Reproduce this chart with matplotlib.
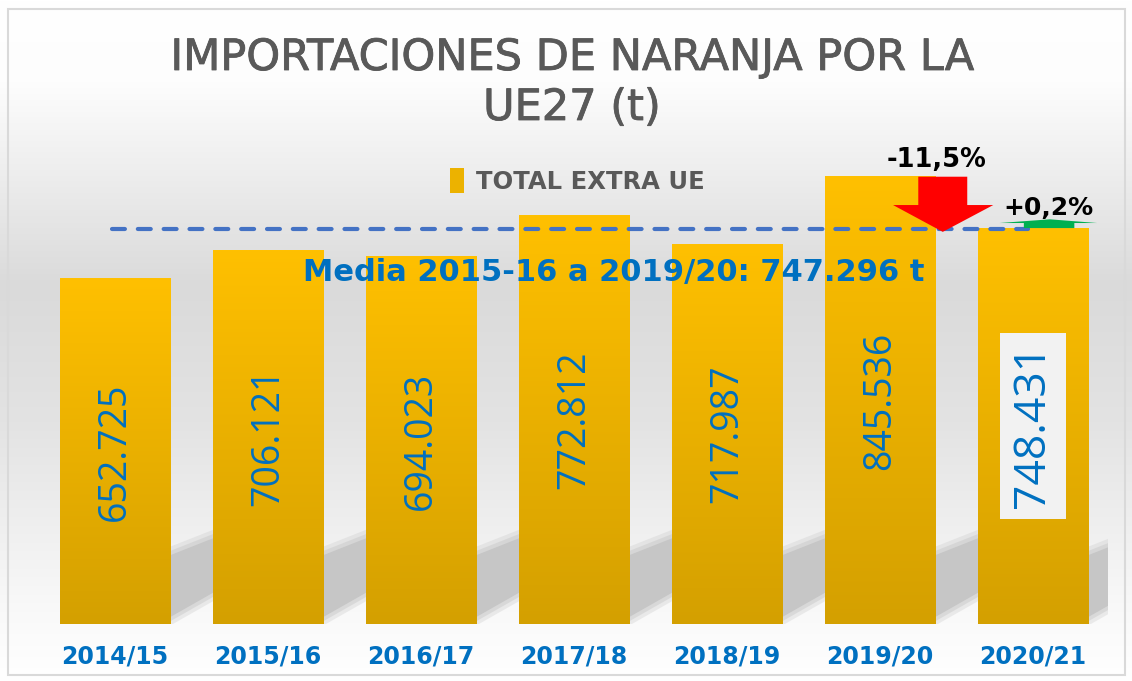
import numpy as np
import matplotlib.pyplot as plt
import matplotlib.patheffects as pe
from matplotlib.colors import LinearSegmentedColormap
from matplotlib.patches import Rectangle, Polygon

campaigns = ["2014/15", "2015/16", "2016/17", "2017/18", "2018/19", "2019/20", "2020/21"]
values = [652725, 706121, 694023, 772812, 717987, 845536, 748431]
value_labels = ["652.725", "706.121", "694.023", "772.812", "717.987", "845.536", "748.431"]
mean_value = 747296
mean_label = "Media 2015-16 a 2019/20: 747.296 t"
change_labels = ["-11,5%", "+0,2%"]

BLUE = "#0070C0"
GREY = "#595959"

fig = plt.figure(figsize=(11.32, 6.81), dpi=100)

# background gradient
bg = fig.add_axes([0, 0, 1, 1], zorder=-10)
bg_cmap = LinearSegmentedColormap.from_list(
    "bg", [(0, "#ffffff"), (0.12, "#fdfdfd"), (0.42, "#dadada"),
           (0.62, "#e3e3e3"), (0.9, "#f9f9f9"), (1, "#ffffff")])
bg.imshow(np.linspace(0, 1, 256).reshape(-1, 1), aspect="auto", cmap=bg_cmap,
          extent=[0, 1, 0, 1])
bg.add_patch(Rectangle((8 / 1132, 6 / 681), 1117 / 1132, 666 / 681, fill=False,
                       edgecolor="#d9d9d9", lw=1.5, transform=bg.transAxes))
bg.set_xlim(0, 1)
bg.set_ylim(0, 1)
bg.axis("off")

ax = fig.add_axes([30 / 1132, 57 / 681, 1078 / 1132, 529 / 681])
ax.patch.set_alpha(0)
x = np.arange(len(campaigns))
w = 0.72
gap = 1 - w

bar_cmap = LinearSegmentedColormap.from_list("bar", ["#D4A000", "#FFC000"])
grad = np.linspace(0, 1, 256).reshape(-1, 1)
for xi, v in zip(x, values):
    r = xi + w / 2
    # soft perspective shadow in the gap right of each bar
    for grow, a in [(16000, 0.3), (8000, 0.45), (0, 1.0)]:
        ax.add_patch(Polygon([(r, 13000 - grow), (r, 130000 + grow),
                              (r + gap, 162000 + grow), (r + gap, 59000 - grow)],
                             closed=True, facecolor="#c6c6c6", edgecolor="none",
                             alpha=a, zorder=1))
    ax.imshow(grad, aspect="auto", cmap=bar_cmap, origin="lower",
              extent=[xi - w / 2, xi + w / 2, 0, v], zorder=2)

ax.set_xlim(-0.556, 6.49)
ax.set_ylim(0, 1000000)

for xi, v, lab in zip(x[:-1], values[:-1], value_labels[:-1]):
    ax.text(xi, v / 2, lab, rotation=90, ha="center", va="center",
            fontsize=27, color=BLUE, family="Open Sans", zorder=5)
ax.text(x[-1], values[-1] / 2, value_labels[-1], rotation=90, ha="center",
        va="center", fontsize=32, color=BLUE, family="Open Sans", zorder=5,
        bbox=dict(boxstyle="square,pad=0.25", facecolor="#f2f2f2", edgecolor="none"))

# mean line
ax.plot([-0.02, 5.97], [mean_value, mean_value], color="#4472C4", lw=3,
        ls=(0, (3.1, 3.1)), dash_capstyle="round", zorder=6)
ax.text(3.26, 665000, mean_label, ha="center", va="center", fontsize=22,
        color=BLUE, family="DejaVu Sans", fontweight="bold", zorder=7)

# red arrow (2019/20 -> 2020/21)
xr = x[5]
top = values[5]
ax.add_patch(Polygon([(xr + 0.25, top), (xr + 0.57, top), (xr + 0.57, 792000),
                      (xr + 0.74, 792000), (xr + 0.41, mean_value - 6000),
                      (xr + 0.085, 792000), (xr + 0.25, 792000)],
                     closed=True, facecolor="#FF0000", edgecolor="none", zorder=8))
ax.text(xr + 0.37, 877000, change_labels[0], ha="center", va="center",
        fontsize=18.5, color="black", family="DejaVu Sans", fontweight="bold")

# green arrow
xg = x[6]
ax.add_patch(Polygon([(xg - 0.06, values[6]), (xg + 0.27, values[6]),
                      (xg + 0.27, 758000), (xg + 0.42, 758000),
                      (xg + 0.11, 765000), (xg - 0.22, 758000),
                      (xg - 0.06, 758000)],
                     closed=True, facecolor="#00B050", edgecolor="none", zorder=8))
ax.text(xg + 0.1, 786000, change_labels[1], ha="center", va="center",
        fontsize=18, color="black", family="DejaVu Sans", fontweight="bold")

ax.set_xticks(x)
ax.set_xticklabels(campaigns, fontsize=17, fontweight="bold", color=BLUE,
                   family="DejaVu Sans")
ax.tick_params(axis="x", length=0, pad=15)
ax.set_yticks([])
for s in ax.spines.values():
    s.set_visible(False)

thick = [pe.withStroke(linewidth=0.6, foreground=GREY)]
fig.text(0.505, 1 - 58 / 681, "IMPORTACIONES DE NARANJA POR LA", ha="center",
         va="center", fontsize=31, color=GREY, family="DejaVu Sans",
         path_effects=thick)
fig.text(0.505, 1 - 108 / 681, "UE27 (t)", ha="center", va="center",
         fontsize=31, color=GREY, family="DejaVu Sans", path_effects=thick)

ax.legend([Rectangle((0, 0), 1, 1, facecolor="#ECB200")], ["TOTAL EXTRA UE"],
          loc="center", bbox_to_anchor=(0.51, 1 - 181 / 681),
          bbox_transform=fig.transFigure, frameon=False,
          labelcolor=GREY, handlelength=0.6, handleheight=1.2, handletextpad=0.5,
          prop={"family": "DejaVu Sans", "size": 17.5, "weight": "bold"})

fig.savefig("out.png", dpi=100)
